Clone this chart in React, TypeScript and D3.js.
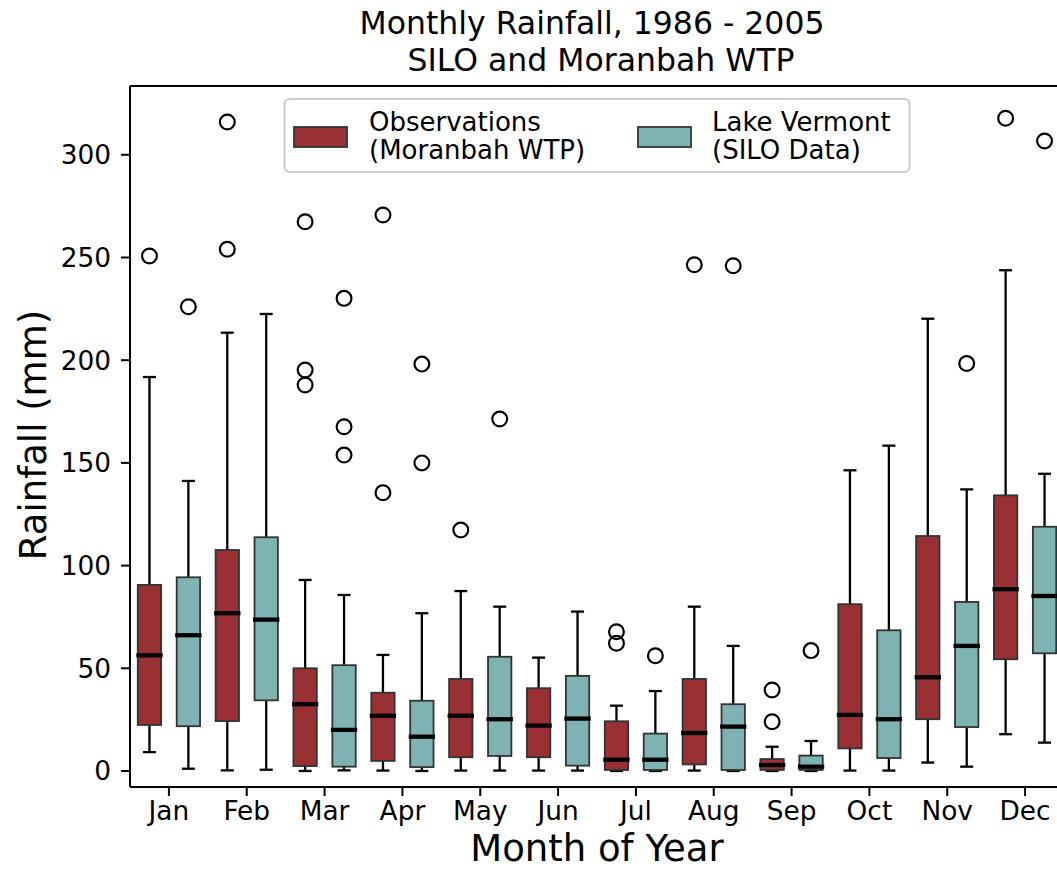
import React from "react";
import * as d3 from "d3";

const months = ["Jan", "Feb", "Mar", "Apr", "May", "Jun", "Jul", "Aug", "Sep", "Oct", "Nov", "Dec"];
const yTicks = [0, 50, 100, 150, 200, 250, 300];

// Observations (Moranbah WTP)
const obsLow = [9.2, 0.3, 0, 0.2, 0.2, 0.2, 0, 0.2, 0, 0.2, 4.1, 17.9];
const obsQ1 = [22.4, 24.3, 2.4, 4.9, 6.7, 6.7, 0.5, 3.2, 0.5, 11, 25.2, 54.4];
const obsMed = [56.3, 76.8, 32.5, 26.9, 26.9, 22.1, 5.5, 18.5, 2.9, 27.3, 45.6, 88.5];
const obsQ3 = [90.6, 107.6, 50, 38.1, 44.8, 40.3, 24.2, 44.8, 5.8, 81.2, 114.4, 134.2];
const obsHigh = [191.8, 213.4, 93, 56.5, 87.6, 55.2, 31.8, 80, 11.8, 146.4, 220.2, 243.8];
const obsOutliers = [[250.7], [316, 254], [267.4, 195.2, 187.9], [270.7, 135.5], [117.3], [], [67.8, 62.2], [246.5], [39.4, 24], [], [], [317.8]];

// Lake Vermont (SILO Data)
const siloLow = [1.1, 0.6, 0.3, 0, 0.2, 0.2, 0, 0, 0, 0.2, 2.1, 13.8];
const siloQ1 = [21.8, 34.4, 2.1, 1.9, 7.3, 2.6, 0.5, 0.5, 0.5, 6.3, 21.4, 57.3];
const siloMed = [66.1, 73.7, 20, 16.7, 25.2, 25.5, 5.5, 21.6, 2.1, 25.2, 60.9, 85.2];
const siloQ3 = [94.3, 113.8, 51.5, 34.2, 55.6, 46.3, 18.2, 32.5, 7.5, 68.5, 82.3, 118.9];
const siloHigh = [141.2, 222.5, 85.7, 76.8, 80, 77.6, 38.9, 60.9, 14.6, 158.4, 137.1, 144.7];
const siloOutliers = [[226], [], [230.1, 167.6, 153.8], [198.1, 150], [171.4], [], [56.1], [246], [58.6], [], [198.4], [306.7]];

const RED = "#993034";
const TEAL = "#7fb2b2";
const EDGE = "#333333";
const FONT = "DejaVu Sans, sans-serif";

const W = 1057;
const H = 871;
const left = 130;
const right = 1064;
const top = 86;
const bottom = 787;

export default function App() {
  const x = d3.scaleLinear().domain([0.5, 12.5]).range([left, right]);
  const y = d3.scaleLinear().domain([-7.8, 333.5]).range([bottom, top]);
  const unit = x(1) - x(0);
  const boxW = 0.3 * unit;
  const capW = 13;
  const offset = 0.25;

  const series = [
    { color: RED, off: -offset, low: obsLow, q1: obsQ1, med: obsMed, q3: obsQ3, high: obsHigh, out: obsOutliers },
    { color: TEAL, off: offset, low: siloLow, q1: siloQ1, med: siloMed, q3: siloQ3, high: siloHigh, out: siloOutliers },
  ];

  return (
    <svg width={W} height={H} style={{ position: "absolute", left: 0, top: 0, background: "#fff" }} fontFamily={FONT}>
      <defs>
        <clipPath id="plotclip">
          <rect x={left} y={top} width={right - left} height={bottom - top} />
        </clipPath>
      </defs>
      {/* Title */}
      <text x={592} y={34} textAnchor="middle" fontSize={31.5} fill="#000">Monthly Rainfall, 1986 - 2005</text>
      <text x={601} y={71} textAnchor="middle" fontSize={31.5} fill="#000">SILO and Moranbah WTP</text>

      {/* Boxes */}
      <g clipPath="url(#plotclip)">
        {series.map((s, si) =>
          months.map((m, i) => {
            const cx = x(i + 1 + s.off);
            return (
              <g key={`${si}-${i}`}>
                <line x1={cx} x2={cx} y1={y(s.low[i])} y2={y(s.q1[i])} stroke="#000" strokeWidth={2.3} />
                <line x1={cx} x2={cx} y1={y(s.q3[i])} y2={y(s.high[i])} stroke="#000" strokeWidth={2.3} />
                <line x1={cx - capW / 2} x2={cx + capW / 2} y1={y(s.low[i])} y2={y(s.low[i])} stroke="#000" strokeWidth={2.3} />
                <line x1={cx - capW / 2} x2={cx + capW / 2} y1={y(s.high[i])} y2={y(s.high[i])} stroke="#000" strokeWidth={2.3} />
                <rect x={cx - boxW / 2} y={y(s.q3[i])} width={boxW} height={y(s.q1[i]) - y(s.q3[i])} fill={s.color} stroke={EDGE} strokeWidth={1.8} />
                <line x1={cx - boxW / 2 - 1.5} x2={cx + boxW / 2 + 1.5} y1={y(s.med[i])} y2={y(s.med[i])} stroke="#000" strokeWidth={4.3} />
                {s.out[i].map((v, k) => (
                  <circle key={k} cx={cx} cy={y(v)} r={7.4} fill="none" stroke="#000" strokeWidth={2.2} />
                ))}
              </g>
            );
          })
        )}
      </g>

      {/* Spines */}
      <line x1={left} x2={left} y1={top} y2={bottom} stroke="#000" strokeWidth={2} />
      <line x1={left} x2={right} y1={bottom} y2={bottom} stroke="#000" strokeWidth={2} />
      <line x1={left} x2={right} y1={top} y2={top} stroke="#000" strokeWidth={2} />
      <line x1={right} x2={right} y1={top} y2={bottom} stroke="#000" strokeWidth={2} />

      {/* Y ticks */}
      {yTicks.map((t) => (
        <g key={t}>
          <line x1={left - 9} x2={left} y1={y(t)} y2={y(t)} stroke="#000" strokeWidth={2} />
          <text x={111} y={y(t)} dy="0.36em" textAnchor="end" fontSize={26.4} fill="#000">{t}</text>
        </g>
      ))}

      {/* X ticks */}
      {months.map((m, i) => (
        <g key={m}>
          <line x1={x(i + 1)} x2={x(i + 1)} y1={bottom} y2={bottom + 9} stroke="#000" strokeWidth={2} />
          <text x={x(i + 1)} y={820} textAnchor="middle" fontSize={26.4} fill="#000">{m}</text>
        </g>
      ))}

      {/* Axis labels */}
      <text x={597} y={861} textAnchor="middle" fontSize={37} fill="#000">Month of Year</text>
      <text transform={`translate(46, 435) rotate(-90)`} textAnchor="middle" fontSize={37} fill="#000">Rainfall (mm)</text>

      {/* Legend */}
      <g>
        <rect x={284.5} y={99} width={625} height={73} rx={5} fill="#fff" fillOpacity={0.8} stroke="#cccccc" strokeWidth={2} />
        <rect x={294} y={127} width={53} height={20} fill={RED} stroke={EDGE} strokeWidth={1.8} />
        <text x={369} y={131} fontSize={26} fill="#000">Observations</text>
        <text x={369} y={159} fontSize={26} fill="#000">(Moranbah WTP)</text>
        <rect x={638} y={127} width={53} height={20} fill={TEAL} stroke={EDGE} strokeWidth={1.8} />
        <text x={712} y={131} fontSize={26} fill="#000">Lake Vermont</text>
        <text x={712} y={159} fontSize={26} fill="#000">(SILO Data)</text>
      </g>
    </svg>
  );
}
